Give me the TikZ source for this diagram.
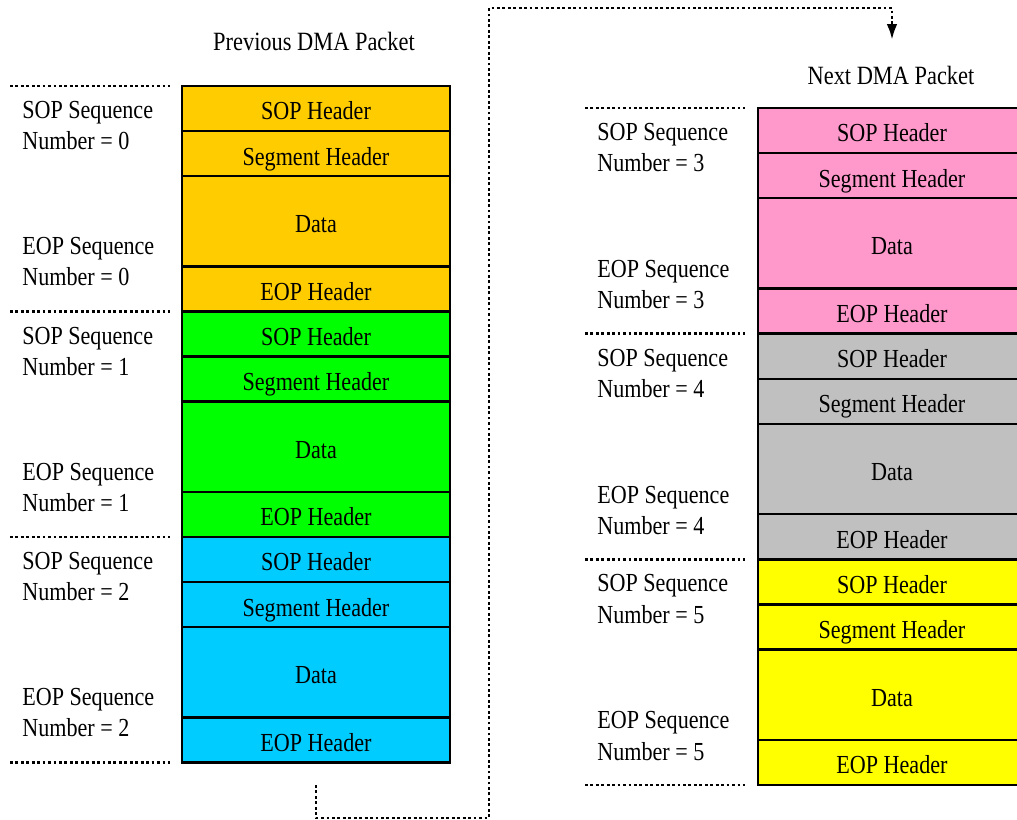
\documentclass[tikz,border=0pt]{standalone}
\usepackage{fontspec}
\setmainfont[FakeStretch=0.85]{Liberation Serif}
\usetikzlibrary{positioning,arrows.meta}

\definecolor{pktorange}{RGB}{255,204,0}
\definecolor{pktgreen}{RGB}{0,255,0}
\definecolor{pktcyan}{RGB}{0,204,255}
\definecolor{pktpink}{RGB}{255,153,204}
\definecolor{pktgrey}{RGB}{192,192,192}
\definecolor{pktyellow}{RGB}{255,255,0}

\tikzset{
  field/.style={draw, line width=1.4pt, minimum width=5.36cm, minimum height=0.902cm, inner sep=0pt,
    outer sep=0pt, anchor=north west, text height=13pt, text depth=0pt, font=\fontsize{14.8}{17}\selectfont},
  datafield/.style={field, minimum height=1.804cm},
  seqtext/.style={align=left, anchor=north west, inner sep=0pt, font=\fontsize{14.8}{17.8}\selectfont},
  pkttitle/.style={anchor=base, inner sep=0pt, font=\fontsize{15}{17}\selectfont},
  sepline/.style={line width=1.6pt, dash pattern=on 1.6pt off 1.5pt},
}

\begin{document}
\begin{tikzpicture}[x=0.02cm,y=-0.02cm]
\useasboundingbox (0,0) rectangle (1017,820);
\clip (0,0) rectangle (1017,820);

\node[pkttitle] (prevtitle) at (314,51) {Previous DMA Packet};
\node[pkttitle] (nexttitle) at (891,85) {Next DMA Packet};

% previous packet
\foreach \g/\col/\py in {0/pktorange/86,1/pktgreen/311.5,2/pktcyan/537} {
\node[field,fill=\col] (sop\g) at (182,\py) {SOP Header};
\node[field,fill=\col,below=0pt of sop\g] (seg\g) {Segment Header};
\node[datafield,fill=\col,below=0pt of seg\g] (dat\g) {Data};
\node[field,fill=\col,below=0pt of dat\g] (eop\g) {EOP Header};
\node[seqtext] (sopl\g) at (22,\py+15) {SOP Sequence\\Number = \g};
\node[seqtext] (eopl\g) at (22,\py+151) {EOP Sequence\\Number = \g};
\draw[sepline] (10,\py) -- (170,\py);
}
\draw[sepline] (10,762.5) -- (170,762.5);

% next packet (runs past the right edge)
\foreach \g/\col/\py in {3/pktpink/108,4/pktgrey/333.7,5/pktyellow/559.4} {
\node[field,fill=\col] (sop\g) at (758,\py) {SOP Header};
\node[field,fill=\col,below=0pt of sop\g] (seg\g) {Segment Header};
\node[datafield,fill=\col,below=0pt of seg\g] (dat\g) {Data};
\node[field,fill=\col,below=0pt of dat\g] (eop\g) {EOP Header};
\node[seqtext] (sopl\g) at (597,\py+15) {SOP Sequence\\Number = \g};
\node[seqtext] (eopl\g) at (597,\py+152) {EOP Sequence\\Number = \g};
\draw[sepline] (585,\py) -- (745,\py);
}
\draw[sepline] (585,785) -- (745,785);

\coordinate (linkstart) at (316,785);
\coordinate (linkend) at (892,40);
\draw[sepline,-{Latex[length=9pt,width=6pt]}] (linkstart) -- (316,818) -- (489,818) -- (489,8) -- (892,8) -- (linkend);

\end{tikzpicture}
\end{document}
